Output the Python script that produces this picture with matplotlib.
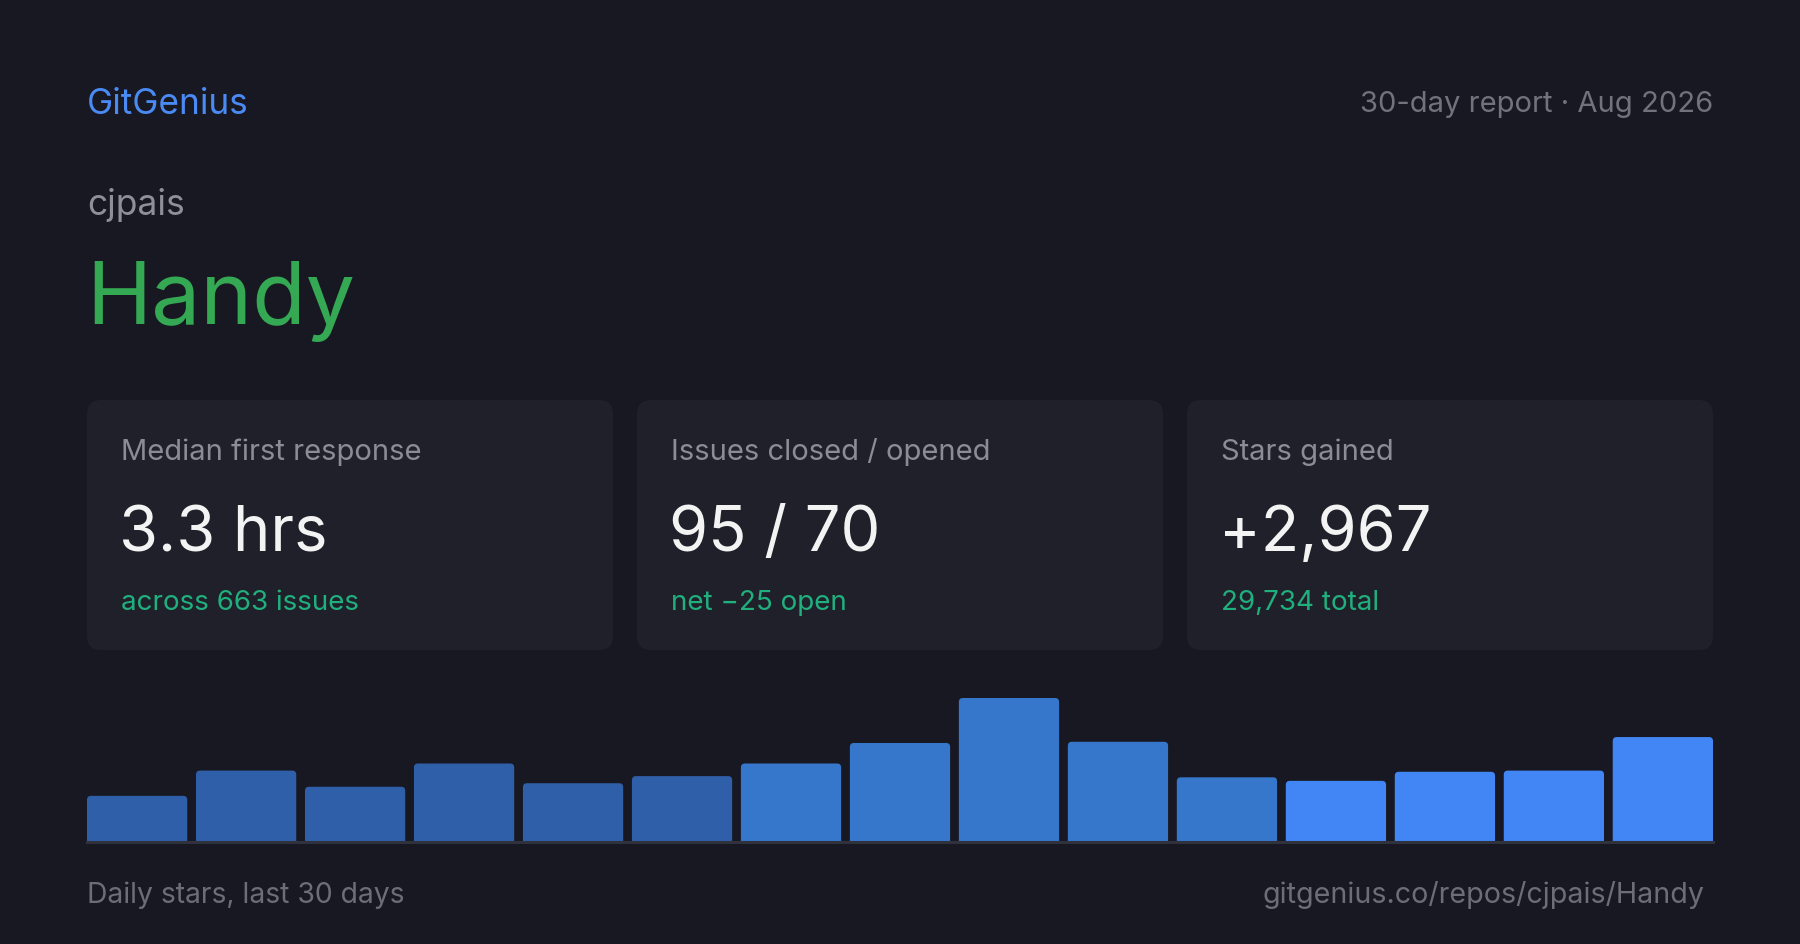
import matplotlib.pyplot as plt
from matplotlib.patches import FancyBboxPatch

owner = "cjpais"
repo = "Handy"
period = "30-day report · Aug 2026"
card_titles = ["Median first response", "Issues closed / opened", "Stars gained"]
card_values = ["3.3 hrs", "95 / 70", "+2,967"]
card_notes = ["across 663 issues", "net −25 open", "29,734 total"]

# daily stars, grouped in 2-day buckets (15 bars)
buckets = ["Jul 04", "Jul 06", "Jul 08", "Jul 10", "Jul 12", "Jul 14", "Jul 16", "Jul 18",
           "Jul 20", "Jul 22", "Jul 24", "Jul 26", "Jul 28", "Jul 30", "Aug 01"]
stars = [117, 181, 140, 199, 149, 167, 199, 251, 365, 254, 164, 155, 178, 181, 266]

BG = "#171821"
CARD = "#1f2029"
BAR_COLORS = ["#2f5fa9"] * 6 + ["#3677cb"] * 5 + ["#4285f4"] * 4

W, H = 1800, 945
plt.rcParams['font.family'] = ['Inter', 'DejaVu Sans']

fig = plt.figure(figsize=(W / 100, H / 100), dpi=100, facecolor=BG)

# pixel-space overlay for text and cards
ov = fig.add_axes([0, 0, 1, 1])
ov.set_xlim(0, W)
ov.set_ylim(H, 0)
ov.axis("off")
ov.set_facecolor(BG)

LEFT, RIGHT = 87, 1713

ov.text(LEFT, 114, "GitGenius", color="#4a8af4", fontsize=25.3, va="baseline")
ov.text(RIGHT, 112, period, color="#71727c", fontsize=21, va="baseline", ha="right")
ov.text(LEFT, 215, owner, color="#8e8f98", fontsize=25.5, va="baseline")
ov.text(LEFT - 1, 324, repo, color="#34a853", fontsize=63, va="baseline")

gap = 24
cw = (RIGHT - LEFT - 2 * gap) / 3
top, bot = 401, 651
for i in range(3):
    x0 = LEFT + i * (cw + gap)
    ov.add_patch(FancyBboxPatch((x0, top), cw, bot - top,
                                boxstyle="round,pad=0,rounding_size=14",
                                fc=CARD, ec="none"))
    ov.text(x0 + 34, 460, card_titles[i], color="#8b8c96", fontsize=21, va="baseline")
    ov.text(x0 + 32, 551, card_values[i], color="#f3f3f3", fontsize=45.5, va="baseline")
    ov.text(x0 + 34, 610, card_notes[i], color="#1fb07e", fontsize=20, va="baseline")

ov.text(LEFT, 903, "Daily stars, last 30 days", color="#6c6d77", fontsize=20.4, va="baseline")
ov.text(1704, 903, f"gitgenius.co/repos/{owner}/{repo}", color="#6c6d77",
        fontsize=20.6, va="baseline", ha="right")

# bar strip
base_y = 843
bar_h = 144
bw = 0.92
ax = fig.add_axes([LEFT / W, (H - base_y) / H, (RIGHT - LEFT) / W, bar_h / H])
ax.set_facecolor("none")
x = range(len(stars))
bars = ax.bar(x, stars, width=bw, color=BAR_COLORS, linewidth=0)
ax.set_xlim(-bw / 2, len(stars) - 1 + bw / 2)
ax.set_ylim(0, max(stars))

# swap the plain rectangles for ones with softly rounded tops
ux = (len(stars) - 1 + bw) / (RIGHT - LEFT)   # data x per pixel
uy = max(stars) / bar_h                       # data y per pixel
r = 4
for b in bars:
    bx, by = b.get_x(), b.get_y()
    bwid, bht = b.get_width(), b.get_height()
    fb = FancyBboxPatch((bx, by - r * uy), bwid, bht + r * uy,
                        boxstyle=f"round,pad=0,rounding_size={r * ux}",
                        mutation_aspect=uy / ux, fc=b.get_facecolor(), ec="none")
    ax.add_patch(fb)
    b.remove()

ax.axhline(0, color="#2f313c", lw=2.2, clip_on=False)
ax.axis("off")

fig.savefig("out.png", dpi=100, facecolor=BG)
